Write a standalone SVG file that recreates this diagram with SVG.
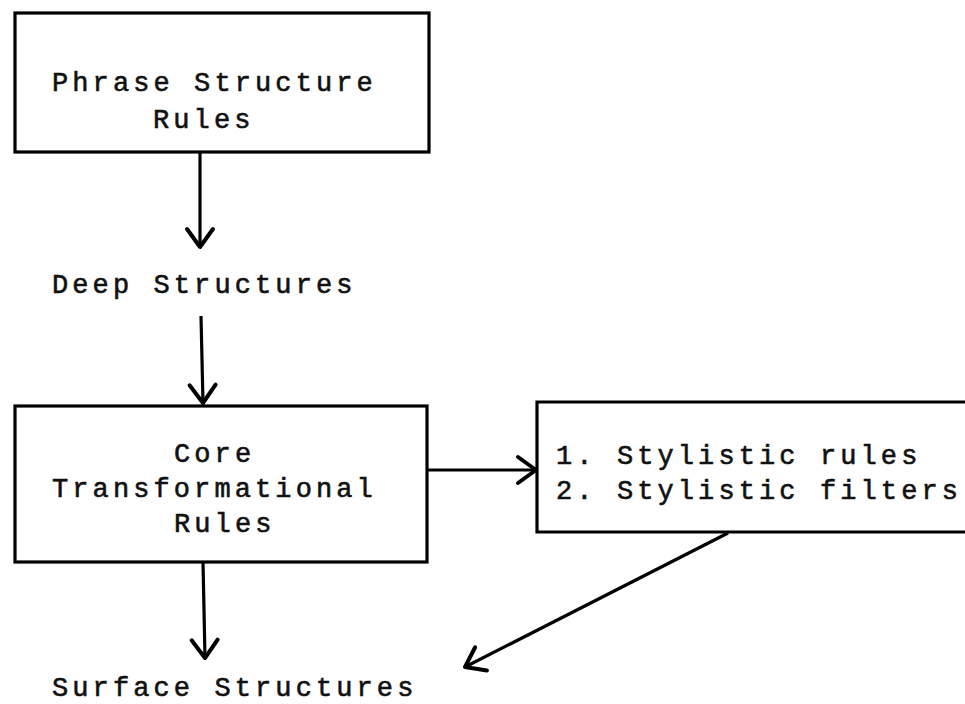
<svg xmlns="http://www.w3.org/2000/svg" width="965" height="704" viewBox="0 0 965 704">
<style>
  .box { fill: none; stroke: #000; stroke-width: 3.2; stroke-linejoin: miter; }
  .lbl { font-family: "Liberation Mono", "DejaVu Sans Mono", monospace; font-size: 27px; letter-spacing: 4.1px; fill: #111; stroke: #111; stroke-width: 0.6px; }
  .conn { fill: none; stroke: #000; stroke-width: 3.2; marker-end: url(#ah); }
</style>
<defs>
  <marker id="ah" markerUnits="userSpaceOnUse" markerWidth="40" markerHeight="40" viewBox="-25 -20 30 40" refX="0" refY="0" orient="auto" overflow="visible">
    <path d="M-18,-13 L0,0 L-18,13" fill="none" stroke="#000" stroke-width="4" stroke-linecap="round" stroke-linejoin="round"/>
  </marker>
</defs>
<rect width="965" height="704" fill="#fff"/>
<g id="phrase-structure-rules">
  <rect class="box" x="15" y="13" width="414" height="139"/>
  <text class="lbl" x="52" y="91">Phrase Structure</text>
  <text class="lbl" x="153" y="128">Rules</text>
</g>
<g id="deep-structures">
  <text class="lbl" x="52" y="293">Deep Structures</text>
</g>
<g id="core-transformational-rules">
  <rect class="box" x="15" y="406" width="412" height="156"/>
  <text class="lbl" x="174" y="462">Core</text>
  <text class="lbl" x="52" y="497">Transformational</text>
  <text class="lbl" x="174" y="532">Rules</text>
</g>
<g id="stylistic">
  <path class="box" d="M970,402 H537 V532 H970"/>
  <text class="lbl" x="556" y="464">1. Stylistic rules</text>
  <text class="lbl" x="556" y="499">2. Stylistic filters</text>
</g>
<g id="surface-structures">
  <text class="lbl" x="52" y="696">Surface Structures</text>
</g>
<g id="connectors">
  <path class="conn" d="M200,152 L200,247"/>
  <path class="conn" d="M201,316 L203,403"/>
  <path class="conn" d="M203,562 L205,658"/>
  <path class="conn" d="M427,470 L536,470"/>
  <path class="conn" d="M728,533 L465,667"/>
</g>
</svg>
